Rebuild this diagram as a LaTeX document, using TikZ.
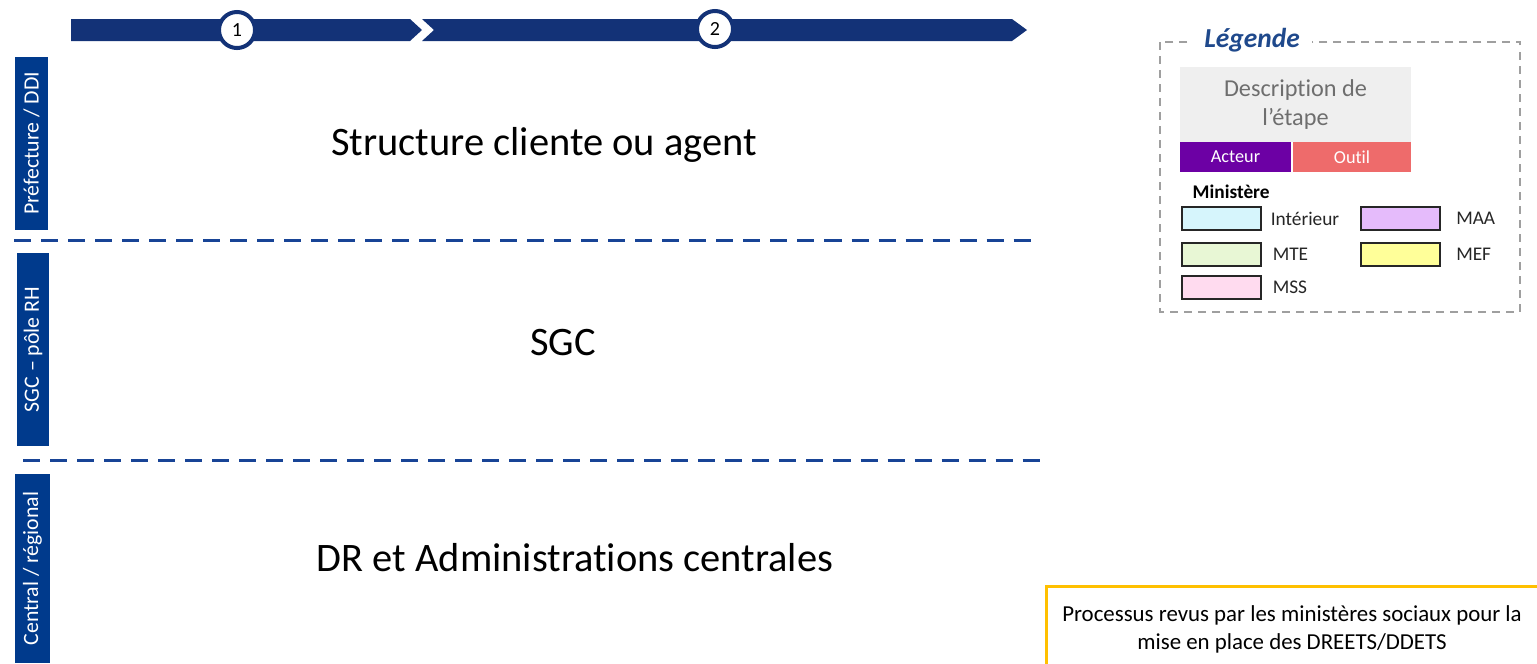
\documentclass[tikz,border=0pt]{standalone}
\usepackage{fontspec}
\setmainfont[Ligatures=NoCommon]{Carlito}
\usetikzlibrary{positioning}

\definecolor{navy}{RGB}{19,50,119}
\definecolor{laneblue}{RGB}{0,58,140}
\definecolor{dashblue}{RGB}{24,68,150}
\definecolor{titleblue}{RGB}{31,73,140}
\definecolor{acteur}{RGB}{108,0,164}
\definecolor{outil}{RGB}{238,107,107}
\definecolor{descgray}{RGB}{239,239,239}
\definecolor{desctext}{RGB}{110,110,110}
\definecolor{cInt}{RGB}{214,245,252}
\definecolor{cMAA}{RGB}{229,187,251}
\definecolor{cMTE}{RGB}{232,247,213}
\definecolor{cMEF}{RGB}{255,255,153}
\definecolor{cMSS}{RGB}{255,219,239}
\definecolor{noteorange}{RGB}{255,192,0}

\tikzset{
  stepcircle/.style={circle, draw=navy, line width=0.04cm, fill=white, minimum size=0.36cm,
    inner sep=0pt, font=\fontsize{5.7}{6}\selectfont},
  lanebox/.style={fill=laneblue, text=white, rotate=90, inner sep=0pt,
    font=\fontsize{6.2}{7}\selectfont},
  lanetext/.style={font=\fontsize{11.5}{13}\selectfont},
  sepline/.style={dashblue, line width=0.03cm, dash pattern=on 0.17cm off 0.1cm},
  legendframe/.style={draw=gray!75, line width=0.015cm, dash pattern=on 0.08cm off 0.06cm},
  legendtitle/.style={fill=white, text=titleblue, inner xsep=0.12cm, inner ysep=0pt,
    font=\fontsize{7.8}{9}\selectfont\bfseries\itshape},
  descbox/.style={fill=descgray, text=desctext, align=center, inner sep=0pt,
    minimum width=2.31cm, minimum height=0.75cm, font=\fontsize{6.9}{8.25}\selectfont},
  tagbox/.style={text=white, inner sep=0pt, minimum height=0.3cm, font=\fontsize{5.2}{6}\selectfont},
  swatch/.style={draw=black!85, line width=0.02cm, minimum width=0.79cm, minimum height=0.23cm, inner sep=0pt},
  swatchlabel/.style={inner sep=0pt, text=black!85, font=\fontsize{5.5}{6}\selectfont},
  notetext/.style={align=center, font=\fontsize{6.5}{8}\selectfont}
}

\begin{document}
\begin{tikzpicture}[x=0.01cm, y=-0.01cm]
  \useasboundingbox (0,0) rectangle (1537,663);

  % Timeline
  \fill[navy] (71,19) -- (410,19) -- (422,30) -- (410,41) -- (71,41) -- cycle;
  \fill[navy] (422,19) -- (1012,19) -- (1027,30) -- (1012,41) -- (422,41) -- (434,30) -- cycle;
  \node[stepcircle] (step1) at (237,30) {1};
  \node[stepcircle] (step2) at (715,29) {2};

  % Lanes
  \node[lanebox, minimum width=1.73cm, minimum height=0.33cm] (lane1) at (31.5,143.5) {Préfecture / DDI};
  \node[lanebox, minimum width=1.93cm, minimum height=0.32cm] (lane2) at (33,349.5) {SGC -- pôle RH};
  \node[lanebox, minimum width=1.89cm, minimum height=0.35cm] (lane3) at (32.5,568.5) {Central / régional};

  \draw[sepline] (14,240) -- (1037,240);
  \draw[sepline] (23,460) -- (1046,460);

  \node[lanetext] (client) at (544,145) {Structure cliente ou agent};
  \node[lanetext] (sgc) at (563,343) {SGC};
  \node[lanetext] (dr) at (575,558) {DR et Administrations centrales};

  % Legend
  \draw[legendframe] (1160,42) rectangle (1520,312);
  \node[legendtitle] (legende) at (1252,40) {Légende};
  \node[descbox] (desc) at (1295.5,104.5) {Description de\\l’étape};
  \node[tagbox, fill=acteur, minimum width=1.11cm] (acteur) at (1235.5,157) {Acteur};
  \node[tagbox, fill=outil, minimum width=1.18cm] (outil) at (1352,157) {Outil};
  \node[swatchlabel, anchor=west, text=black, font=\fontsize{5.5}{6}\selectfont\bfseries] (ministere) at (1192,192) {Ministère};

  \node[swatch, fill=cInt] (sInt) at (1221.5,218.5) {};
  \node[swatch, fill=cMTE] (sMTE) at (1221.5,254.5) {};
  \node[swatch, fill=cMSS] (sMSS) at (1221.5,287.5) {};
  \node[swatch, fill=cMAA] (sMAA) at (1400,218.5) {};
  \node[swatch, fill=cMEF] (sMEF) at (1400,254.5) {};
  \node[swatchlabel, right=0.08cm of sInt] (lInt) {Intérieur};
  \node[swatchlabel, right=0.10cm of sMTE] (lMTE) {MTE};
  \node[swatchlabel, right=0.10cm of sMSS] (lMSS) {MSS};
  \node[swatchlabel, right=0.15cm of sMAA] (lMAA) {MAA};
  \node[swatchlabel, right=0.15cm of sMEF] (lMEF) {MEF};

  % Note
  \draw[noteorange, line width=0.03cm] (1046,586) rectangle (1570,700);
  \node[notetext] (note) at (1292,629) {Processus revus par les ministères sociaux pour la\\mise en place des DREETS/DDETS};
\end{tikzpicture}
\end{document}
